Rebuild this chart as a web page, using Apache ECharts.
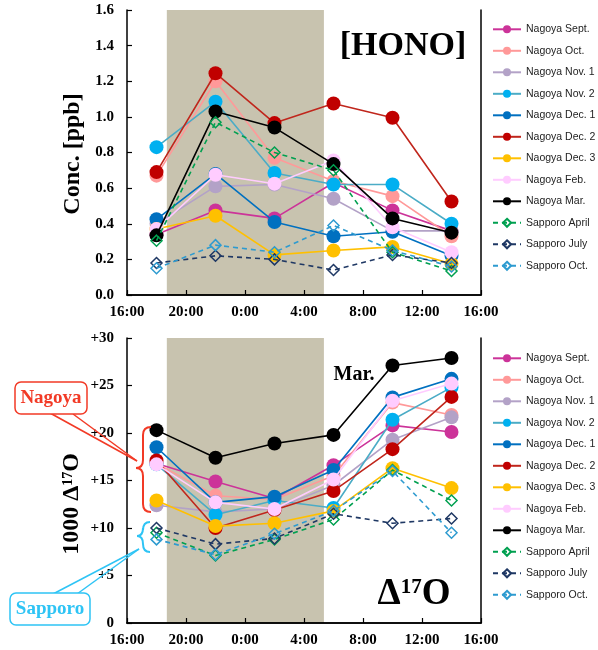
<!DOCTYPE html>
<html><head><meta charset="utf-8">
<script src="https://cdn.jsdelivr.net/npm/echarts@6/dist/echarts.min.js"></script>
<style>html,body{margin:0;padding:0;background:#fff}#c{width:598px;height:650px}</style>
</head><body><div id="c"></div>
<script>
// ---- data ----
const hours = [18, 22, 26, 30, 34, 38];            // 18:00, 22:00, 2:00, 6:00, 10:00, 14:00
const xTickLabels = ['16:00', '20:00', '0:00', '4:00', '8:00', '12:00', '16:00'];
const concTickLabels = ['0.0', '0.2', '0.4', '0.6', '0.8', '1.0', '1.2', '1.4', '1.6'];
const d17TickLabels = ['0', '+5', '+10', '+15', '+20', '+25', '+30'];
const night = [18.7, 29.35];
const seriesNames = ['Nagoya Sept.', 'Nagoya Oct.', 'Nagoya Nov. 1', 'Nagoya Nov. 2', 'Nagoya Dec. 1',
  'Nagoya Dec. 2', 'Naogya Dec. 3', 'Nagoya Feb.', 'Nagoya Mar.', 'Sapporo April', 'Sapporo July', 'Sapporo Oct.'];

// HONO concentration [ppb]
const honoSept   = [0.34, 0.475, 0.43, 0.63, 0.475, 0.36];
const honoOct    = [0.67, 1.20, 0.77, 0.64, 0.555, 0.33];
const honoNov1   = [0.40, 0.61, 0.62, 0.54, 0.36, 0.36];
const honoNov2   = [0.83, 1.085, 0.685, 0.62, 0.62, 0.40];
const honoDec1   = [0.425, 0.68, 0.41, 0.33, 0.355, 0.22];
const honoDec2   = [0.69, 1.245, 0.965, 1.075, 0.995, 0.525];
const honoDec3   = [0.37, 0.445, 0.225, 0.25, 0.27, 0.175];
const honoFeb    = [0.37, 0.675, 0.625, 0.755, 0.38, 0.24];
const honoMar    = [0.335, 1.03, 0.94, 0.735, 0.43, 0.35];
const honoSapApr = [0.305, 0.97, 0.80, 0.70, 0.24, 0.135];
const honoSapJul = [0.18, 0.22, 0.20, 0.14, 0.225, 0.18];
const honoSapOct = [0.15, 0.28, 0.24, 0.39, 0.25, 0.16];

// 1000 Δ17O
const d17Sept   = [16.8, 14.9, 13.1, 16.6, 20.8, 20.1];
const d17Oct    = [16.8, 13.4, 13.0, 15.5, 23.2, 21.9];
const d17Nov1   = [12.4, 11.7, 12.0, 14.5, 19.3, 21.65];
const d17Nov2   = [16.7, 11.4, 12.9, 12.1, 21.4, 24.8];
const d17Dec1   = [18.5, 12.7, 13.3, 16.1, 23.75, 25.7];
const d17Dec2   = [17.1, 10.0, 11.9, 13.9, 18.3, 23.8];
const d17Dec3   = [12.9, 10.2, 10.5, 11.8, 16.3, 14.2];
const d17Feb    = [16.7, 12.7, 12.0, 15.1, 23.4, 25.2];
const d17Mar    = [20.3, 17.4, 18.9, 19.8, 27.1, 27.9];
const d17SapApr = [9.5, 7.1, 8.8, 10.9, 16.1, 12.9];
const d17SapJul = [10.0, 8.3, 8.9, 11.5, 10.5, 11.0];
const d17SapOct = [8.8, 7.2, 9.4, 11.8, 16.0, 9.5];

const honoAll = [honoSept, honoOct, honoNov1, honoNov2, honoDec1, honoDec2, honoDec3, honoFeb, honoMar, honoSapApr, honoSapJul, honoSapOct];
const d17All = [d17Sept, d17Oct, d17Nov1, d17Nov2, d17Dec1, d17Dec2, d17Dec3, d17Feb, d17Mar, d17SapApr, d17SapJul, d17SapOct];

// ---- styles ----
const markerColors = ['#CC3399', '#FF9999', '#B3A2C7', '#00B0F0', '#0070C0', '#C00000', '#FFC000', '#FFCCFF', '#000000', '#00A050', '#1F3864', '#2E9BD0'];
const lineColors   = ['#CC3399', '#FF9999', '#B3A2C7', '#4BACC6', '#0070C0', '#C0261C', '#FFC000', '#FFCCFF', '#000000', '#00A050', '#1F3864', '#2E9BD0'];
const SERIF = '"Liberation Serif", "Times New Roman", serif';

function buildSeries(all, g) {
  const out = [{
    type: 'line', xAxisIndex: g, yAxisIndex: g, data: [], silent: true, z: 0,
    markArea: { silent: true, itemStyle: { color: '#C8C3AF', opacity: 1 }, data: [[{ xAxis: night[0] }, { xAxis: night[1] }]] }
  }];
  all.forEach((vals, i) => {
    const sap = i >= 9;
    out.push({
      type: 'line', name: seriesNames[i], xAxisIndex: g, yAxisIndex: g,
      data: hours.map((h, k) => [h, vals[k]]),
      symbol: sap ? 'diamond' : 'circle',
      symbolSize: sap ? 11 : 14,
      showAllSymbol: true,
      lineStyle: { color: lineColors[i], width: 1.6, type: sap ? [5, 4] : 'solid' },
      itemStyle: sap ? { color: 'rgba(255,255,255,0)', borderColor: markerColors[i], borderWidth: 1.5 }
                     : { color: markerColors[i], borderWidth: 0 },
      emphasis: { disabled: true },
      z: 2 + i * 0.01
    });
  });
  return out;
}

function xAxisCfg(g) {
  return {
    type: 'value', gridIndex: g, min: 16, max: 40, interval: 4, z: 10,
    axisLine: { lineStyle: { color: '#000', width: 1.5 } },
    axisTick: { inside: true, length: 5, lineStyle: { color: '#000', width: 1.2 } },
    splitLine: { show: false },
    axisLabel: { margin: 10, color: '#000', fontFamily: SERIF, fontWeight: 'bold', fontSize: 15,
      formatter: v => xTickLabels[Math.round((v - 16) / 4)] }
  };
}
function xTopCfg(g) {
  return { type: 'value', gridIndex: g, position: 'top', min: 16, max: 40, z: 10,
    axisLine: { show: true, lineStyle: { color: '#000', width: 1.5 } },
    axisTick: { show: false }, axisLabel: { show: false }, splitLine: { show: false } };
}
function yRightCfg(g, max) {
  return { type: 'value', gridIndex: g, position: 'right', min: 0, max: max, z: 10,
    axisLine: { show: true, lineStyle: { color: '#000', width: 1.5 } },
    axisTick: { show: false }, axisLabel: { show: false }, splitLine: { show: false } };
}

function legendCfg(top) {
  return {
    data: seriesNames, orient: 'vertical', left: 492, top: top, padding: 0,
    itemWidth: 28, itemHeight: 10, itemGap: 8.5,
    textStyle: { fontFamily: '"Liberation Sans", Arial, sans-serif', fontSize: 10.5, color: '#222', lineHeight: 13 },
    selectedMode: false
  };
}

function brace(xArm, xMid, xTip, yTop, yTip, yBot, color) {
  const s = { stroke: color, lineWidth: 2, fill: null };
  const r = 8;
  return [
    { type: 'bezierCurve', shape: { x1: xArm, y1: yTop, x2: xMid, y2: yTop + r, cpx1: xMid, cpy1: yTop }, style: s, z: 50 },
    { type: 'line', shape: { x1: xMid, y1: yTop + r, x2: xMid, y2: yTip - r }, style: s, z: 50 },
    { type: 'bezierCurve', shape: { x1: xMid, y1: yTip - r, x2: xTip, y2: yTip, cpx1: xMid, cpy1: yTip }, style: s, z: 50 },
    { type: 'bezierCurve', shape: { x1: xTip, y1: yTip, x2: xMid, y2: yTip + r, cpx1: xMid, cpy1: yTip }, style: s, z: 50 },
    { type: 'line', shape: { x1: xMid, y1: yTip + r, x2: xMid, y2: yBot - r }, style: s, z: 50 },
    { type: 'bezierCurve', shape: { x1: xMid, y1: yBot - r, x2: xArm, y2: yBot, cpx1: xMid, cpy1: yBot }, style: s, z: 50 }
  ];
}

const RED = '#F23A26', CYAN = '#2EC4F5';

const graphics = [
  { type: 'text', x: 403, y: 46, z: 50, style: { text: '[HONO]', font: 'bold 34px ' + SERIF, fill: '#000', align: 'center', verticalAlign: 'middle' } },
  { type: 'text', x: 414, y: 594, z: 50, style: {
      text: '{a|Δ}{s|17}{a|O}', align: 'center', verticalAlign: 'middle', fill: '#000',
      rich: { a: { font: 'bold 37px ' + SERIF, lineHeight: 34, fill: '#000' },
              s: { font: 'bold 21px ' + SERIF, verticalAlign: 'top', fill: '#000' } } } },
  { type: 'text', x: 354, y: 375, z: 50, style: { text: 'Mar.', font: 'bold 20px ' + SERIF, fill: '#000', align: 'center', verticalAlign: 'middle' } },
  { type: 'text', x: 73, y: 154, rotation: Math.PI / 2, z: 50, style: { text: 'Conc. [ppb]', font: 'bold 24px ' + SERIF, fill: '#000', align: 'center', verticalAlign: 'middle' } },
  { type: 'text', x: 72, y: 504, rotation: Math.PI / 2, z: 50, style: {
      text: '{a|1000 Δ}{s|17}{a|O}', align: 'center', verticalAlign: 'middle', fill: '#000',
      rich: { a: { font: 'bold 24px ' + SERIF, lineHeight: 22, fill: '#000' },
              s: { font: 'bold 14px ' + SERIF, verticalAlign: 'top', fill: '#000' } } } },
  // Nagoya callout
  { type: 'line', shape: { x1: 50, y1: 413, x2: 137, y2: 461 }, style: { stroke: RED, lineWidth: 1.5 }, z: 49 },
  { type: 'line', shape: { x1: 73, y1: 414, x2: 137, y2: 461 }, style: { stroke: RED, lineWidth: 1.5 }, z: 49 },
  { type: 'rect', shape: { x: 15, y: 382, width: 72, height: 32, r: 6 }, style: { fill: '#fff', stroke: RED, lineWidth: 1.5 }, z: 51 },
  { type: 'text', x: 51, y: 398, z: 52, style: { text: 'Nagoya', font: 'bold 19px ' + SERIF, fill: RED, align: 'center', verticalAlign: 'middle' } },
  // Sapporo callout
  { type: 'line', shape: { x1: 53, y1: 594, x2: 139, y2: 549 }, style: { stroke: CYAN, lineWidth: 1.5 }, z: 49 },
  { type: 'line', shape: { x1: 77, y1: 594, x2: 139, y2: 549 }, style: { stroke: CYAN, lineWidth: 1.5 }, z: 49 },
  { type: 'rect', shape: { x: 10, y: 593, width: 80, height: 32, r: 6 }, style: { fill: '#fff', stroke: CYAN, lineWidth: 1.5 }, z: 51 },
  { type: 'text', x: 50, y: 609, z: 52, style: { text: 'Sapporo', font: 'bold 19px ' + SERIF, fill: CYAN, align: 'center', verticalAlign: 'middle' } }
].concat(brace(151, 143, 136, 427, 468, 512, RED), brace(150, 143, 137, 522, 536, 552, CYAN));

const chart = echarts.init(document.getElementById('c'), null, { renderer: 'canvas' });
chart.setOption({
  animation: false,
  backgroundColor: '#fff',
  grid: [
    { left: 127, top: 10, width: 354, height: 285 },
    { left: 127, top: 338, width: 354, height: 285 }
  ],
  xAxis: [xAxisCfg(0), xAxisCfg(1), xTopCfg(0), xTopCfg(1)],
  yAxis: [
    { type: 'value', gridIndex: 0, min: 0, max: 1.6, interval: 0.2, z: 10,
      axisLine: { show: true, lineStyle: { color: '#000', width: 1.5 } },
      axisTick: { show: true, inside: true, length: 5, lineStyle: { color: '#000', width: 1.2 } },
      splitLine: { show: false },
      axisLabel: { margin: 13, color: '#000', fontFamily: SERIF, fontWeight: 'bold', fontSize: 15,
        formatter: v => concTickLabels[Math.round(v / 0.2)] } },
    { type: 'value', gridIndex: 1, min: 0, max: 30, interval: 5, z: 10,
      axisLine: { show: true, lineStyle: { color: '#000', width: 1.5 } },
      axisTick: { show: true, inside: true, length: 5, lineStyle: { color: '#000', width: 1.2 } },
      splitLine: { show: false },
      axisLabel: { margin: 13, color: '#000', fontFamily: SERIF, fontWeight: 'bold', fontSize: 15,
        formatter: v => d17TickLabels[Math.round(v / 5)] } },
    yRightCfg(0, 1.6), yRightCfg(1, 30)
  ],
  legend: [legendCfg(22.8), legendCfg(351.8)],
  series: buildSeries(honoAll, 0).concat(buildSeries(d17All, 1)),
  graphic: { elements: graphics }
});
</script>
</body></html>
